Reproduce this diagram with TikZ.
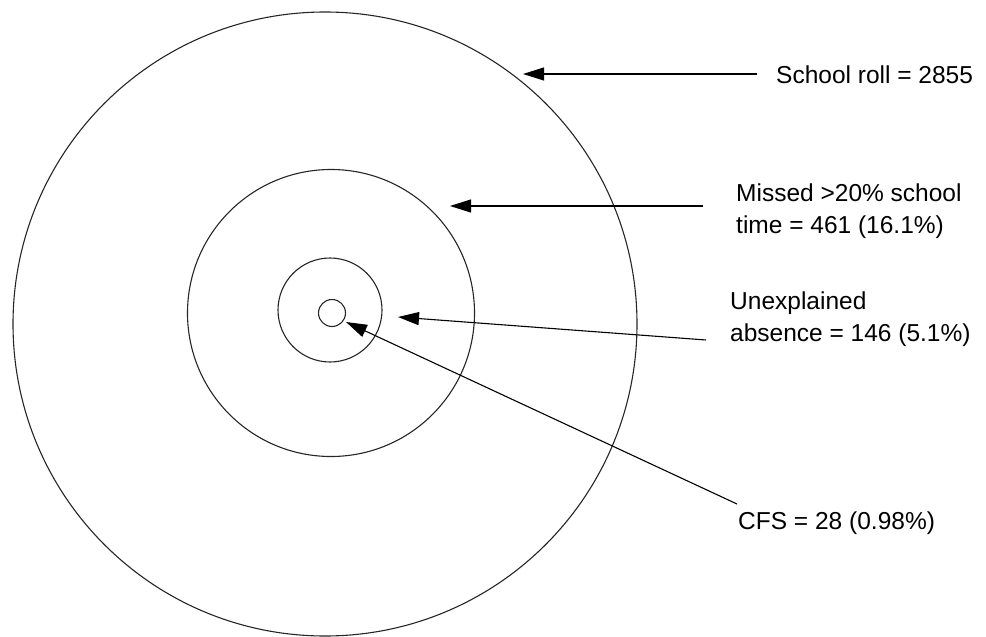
\documentclass[tikz,border=0pt]{standalone}
\usepackage{fontspec}
\setmainfont{Liberation Sans}
\usetikzlibrary{arrows.meta}
\begin{document}
\begin{tikzpicture}[x=1pt,y=-1pt,
  ring/.style={draw=black!85, line width=1.1pt},
  pointer/.style={draw=black, line width=1.1pt, -{Triangle[length=21pt,width=13pt]}},
  lbl/.style={anchor=west, inner sep=0pt, align=left, font=\fontsize{24.5}{32}\selectfont}]
\useasboundingbox (0,0) rectangle (986,637);
\draw[ring] (325,324) circle[radius=312];
\draw[ring] (331,313) circle[radius=143.5];
\draw[ring] (330,310) circle[radius=52];
\draw[ring] (332,313) circle[radius=13.5];
\coordinate (t1) at (523,74);
\coordinate (t2) at (450,206);
\coordinate (t3) at (398,317);
\coordinate (t4) at (346,322);
\coordinate (s1) at (757,74);
\coordinate (s2) at (703,206);
\coordinate (s3) at (706,340);
\coordinate (s4) at (737,504);
\node[lbl] (l1) at (776,75) {School roll = 2855};
\node[lbl] (l2) at (736,211) {Missed >20\% school\\time = 461 (16.1\%)};
\node[lbl] (l3) at (730,319) {Unexplained\\absence = 146 (5.1\%)};
\node[lbl] (l4) at (738,523) {CFS = 28 (0.98\%)};
\draw[pointer] (s1) -- (t1);
\draw[pointer] (s2) -- (t2);
\draw[pointer] (s3) -- (t3);
\draw[pointer] (s4) -- (t4);
\end{tikzpicture}
\end{document}
